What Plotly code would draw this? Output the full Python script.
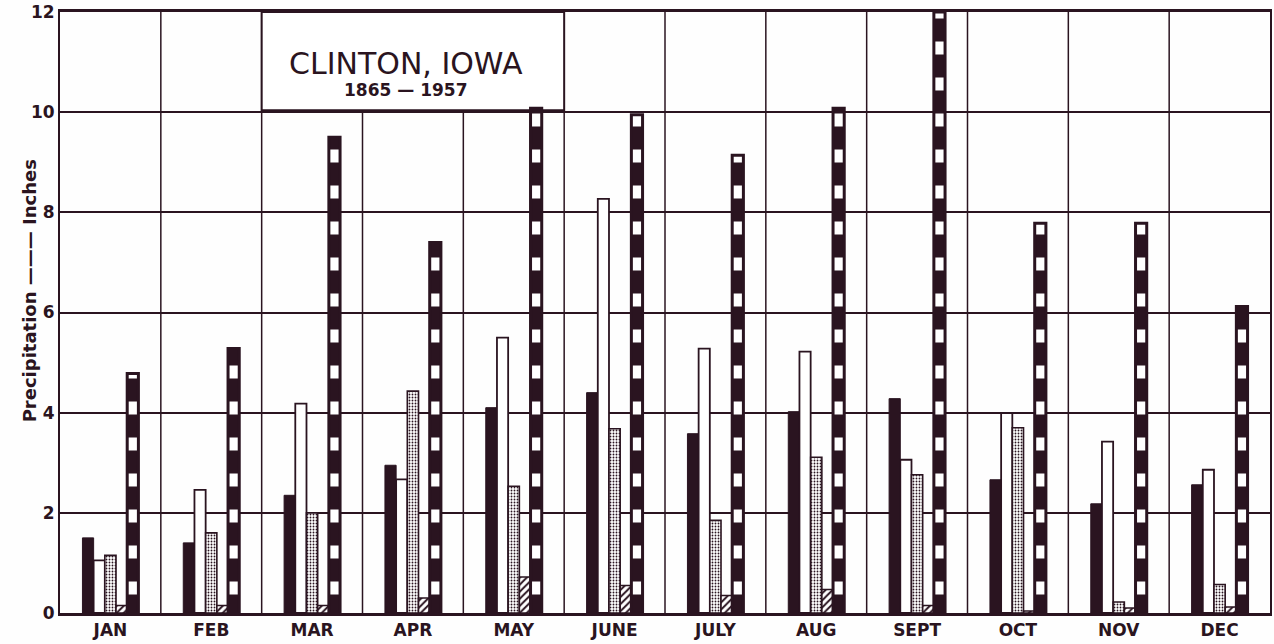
import plotly.graph_objects as go

# Monthly precipitation statistics, Clinton, Iowa (inches)
months = ["JAN", "FEB", "MAR", "APR", "MAY", "JUNE",
          "JULY", "AUG", "SEPT", "OCT", "NOV", "DEC"]
solid_series = [1.50, 1.40, 2.35, 2.95, 4.10, 4.40, 3.58, 4.02, 4.28, 2.66, 2.18, 2.56]
open_series = [1.05, 2.46, 4.18, 2.67, 5.50, 8.27, 5.28, 5.22, 3.06, 3.99, 3.42, 2.86]
stipple_series = [1.15, 1.60, 2.00, 4.43, 2.53, 3.68, 1.85, 3.11, 2.76, 3.70, 0.22, 0.57]
hatch_series = [0.15, 0.15, 0.15, 0.30, 0.72, 0.55, 0.35, 0.47, 0.15, 0.04, 0.10, 0.12]
greatest_series = [4.78, 5.28, 9.50, 7.40, 10.08, 9.95, 9.14, 10.08, 12.00, 7.78, 7.78, 6.12]

title_main = "CLINTON, IOWA"
title_years = "1865 \u2014 1957"
y_title = "Precipitation \u2014\u2014\u2014 Inches"
y_ticks = [0, 2, 4, 6, 8, 10, 12]

INK = "#2a1420"
PAPER = "#fefefe"
FONT = "DejaVu Sans"

fig = go.Figure()

fig.add_bar(
    x=months, y=solid_series, name="solid",
    marker=dict(color=INK, line=dict(color=INK, width=1)),
)
fig.add_bar(
    x=months, y=open_series, name="open",
    marker=dict(color="white", line=dict(color=INK, width=1.8)),
)
fig.add_bar(
    x=months, y=stipple_series, name="stipple",
    marker=dict(
        color="white",
        line=dict(color=INK, width=1.6),
        pattern=dict(shape=".", fgcolor=INK, bgcolor="white", size=3, solidity=0.3,
                     fgopacity=1),
    ),
)
fig.add_bar(
    x=months, y=hatch_series, name="hatch",
    marker=dict(
        color="white",
        line=dict(color=INK, width=1.6),
        pattern=dict(shape="/", fgcolor=INK, bgcolor="white", size=5, solidity=0.4,
                     fgopacity=1),
    ),
)
# Ladder bars: dark rungs on a white core, framed by a heavy outline
fig.add_bar(
    x=months, y=greatest_series, name="greatest",
    marker=dict(
        color="white",
        line=dict(color=INK, width=3),
        pattern=dict(shape="-", fgcolor=INK, bgcolor="white", size=36, solidity=0.64,
                     fgopacity=1, fillmode="replace"),
    ),
)

# Vertical dividers between months
n = len(months)
for i in range(1, n):
    fig.add_shape(
        type="line", xref="x", yref="y",
        x0=i - 0.5, x1=i - 0.5, y0=0, y1=y_ticks[-1],
        line=dict(color=INK, width=1.5), layer="below",
    )

# Title panel
fig.add_shape(
    type="rect", xref="x", yref="y",
    x0=1.5, x1=4.5, y0=10.04, y1=y_ticks[-1],
    fillcolor="white", line=dict(color=INK, width=2), layer="between",
)
fig.add_annotation(
    x=3, y=10.98, xref="x", yref="y", xshift=-7,
    text=title_main, showarrow=False,
    font=dict(family=FONT, size=30, color=INK),
)
fig.add_annotation(
    x=3, y=10.44, xref="x", yref="y", xshift=-7,
    text=title_years, showarrow=False,
    font=dict(family=FONT, size=17, color=INK, weight="bold"),
)

# Y axis title
fig.add_annotation(
    x=0, xref="paper", xshift=-43, y=0.536, yref="paper",
    text=y_title, textangle=-90, showarrow=False,
    font=dict(family=FONT, size=18, color=INK, weight="bold"),
)

fig.update_layout(
    width=1274, height=644,
    margin=dict(l=60, r=2, t=12, b=31),
    paper_bgcolor=PAPER, plot_bgcolor=PAPER,
    barmode="group", bargap=0.445, bargroupgap=0,
    showlegend=False,
    font=dict(family=FONT, color=INK),
)
fig.update_xaxes(
    type="category", range=[-0.5, n - 0.5],
    showgrid=False, showline=True, mirror=True,
    linecolor=INK, linewidth=2.5, ticks="",
    tickfont=dict(family=FONT, size=17, color=INK, weight="bold"),
)
fig.update_yaxes(
    range=[0, y_ticks[-1]], tickvals=y_ticks,
    showgrid=True, gridcolor=INK, gridwidth=1.5,
    zeroline=False, showline=True, mirror=True,
    linecolor=INK, linewidth=2, ticks="", ticklabelstandoff=0,
    tickfont=dict(family=FONT, size=17, color=INK, weight="bold"),
)

fig.write_html("out.html")
